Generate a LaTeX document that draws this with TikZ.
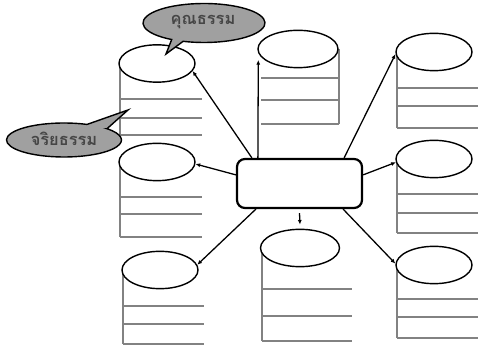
\documentclass[tikz,border=0pt]{standalone}
\usepackage{fontspec}
\newfontfamily\thaifont[Script=Thai]{Loma}
\usetikzlibrary{shapes.geometric,arrows.meta,calc}
\definecolor{bubblegray}{RGB}{160,160,160}
\definecolor{rulegray}{RGB}{130,130,130}
\definecolor{textgray}{RGB}{70,70,70}

\begin{document}
\begin{tikzpicture}[x=0.03cm,y=-0.03cm,
  topic/.style={draw,ellipse,line width=1.2pt,fill=white,minimum width=2.28cm,minimum height=1.12cm,inner sep=0pt},
  hub/.style={draw,rounded corners=0.24cm,line width=1.9pt,minimum width=3.75cm,minimum height=1.47cm},
  rule/.style={rulegray,line width=1pt},
  link/.style={-{Latex[length=4pt,width=3.5pt]},line width=1.1pt},
  bubble/.style={fill=bubblegray,draw=black,line width=1.2pt},
  word/.style={textgray,font=\thaifont\bfseries\fontsize{14}{16}\selectfont}]
  \useasboundingbox (0,0) rectangle (478,347);
  %rows under the ellipses
  \draw[rule] (120,63.5)--(120,135);
  \foreach \y in {99,118,135} \draw[rule] (120,\y)--(202,\y);
  \draw[rule] (120,162)--(120,237);
  \foreach \y in {197,214,237} \draw[rule] (120,\y)--(202,\y);
  \draw[rule] (123,270)--(123,344);
  \foreach \y in {306,324,344} \draw[rule] (123,\y)--(204,\y);
  \draw[rule] (339,49)--(339,124);
  \foreach \y in {78,100,124} \draw[rule] (261,\y)--(339,\y);
  \draw[rule] (262,248)--(262,341);
  \foreach \y in {289,316,341} \draw[rule] (262,\y)--(352,\y);
  \draw[rule] (397,52)--(397,128);
  \foreach \y in {88,106,128} \draw[rule] (397,\y)--(478,\y);
  \draw[rule] (397,159)--(397,233);
  \foreach \y in {194,213,233} \draw[rule] (397,\y)--(478,\y);
  \draw[rule] (397,265)--(397,338);
  \foreach \y in {299,317,338} \draw[rule] (397,\y)--(478,\y);
  %ellipses
  \node[topic] (t1) at (157,63.5) {};
  \node[topic] (t2) at (157,162) {};
  \node[topic] (t3) at (160,270) {};
  \node[topic,minimum width=2.4cm] (t4) at (298,49) {};
  \node[topic,minimum width=2.37cm] (t5) at (300,248) {};
  \node[topic] (t6) at (434,52) {};
  \node[topic] (t7) at (434,159) {};
  \node[topic] (t8) at (434,265) {};
  \node[hub] (hub) at (299.5,183.5) {};
  %links
  \draw[link] ($(hub.north west)+(16,0)$)--(t1.-12);
  \draw[link] ($(hub.north west)+(22,0)$)--($(t4.west)+(1,11)$);
  \draw[link] ($(hub.north east)+(-19,0)$)--(t6.183);
  \draw[link] ($(hub.north east)+(0,17)$)--(t7.185);
  \draw[link] ($(hub.north west)+(0,17)$)--(t2.-3);
  \draw[link] ($(hub.south west)+(20,0)$)--(t3.8);
  \draw[link] ($(hub.south)+(0,4)$)--($(t5.north)+(0,-4)$);
  \draw[link] ($(hub.south east)+(-20,0)$)--(t8.178);
  %speech bubbles
  \coordinate (b1) at (204,23);
  \coordinate (b2) at (64,140);
  \filldraw[bubble] ($(b1)+(110:61 and 19.5)$)--(166,54)--($(b1)+(122:61 and 19.5)$)
    arc[start angle=122,end angle=470,x radius=61,y radius=19.5]--cycle;
  \filldraw[bubble] ($(b2)+(-41.6:57.5 and 17)$)--(128,110)--($(b2)+(-66.4:57.5 and 17)$)
    arc[start angle=-66.4,end angle=-401.6,x radius=57.5,y radius=17]--cycle;
  \node[word] (virtue) at (203,22) {คุณธรรม};
  \node[word] (ethics) at (64,139) {จริยธรรม};
\end{tikzpicture}
\end{document}
